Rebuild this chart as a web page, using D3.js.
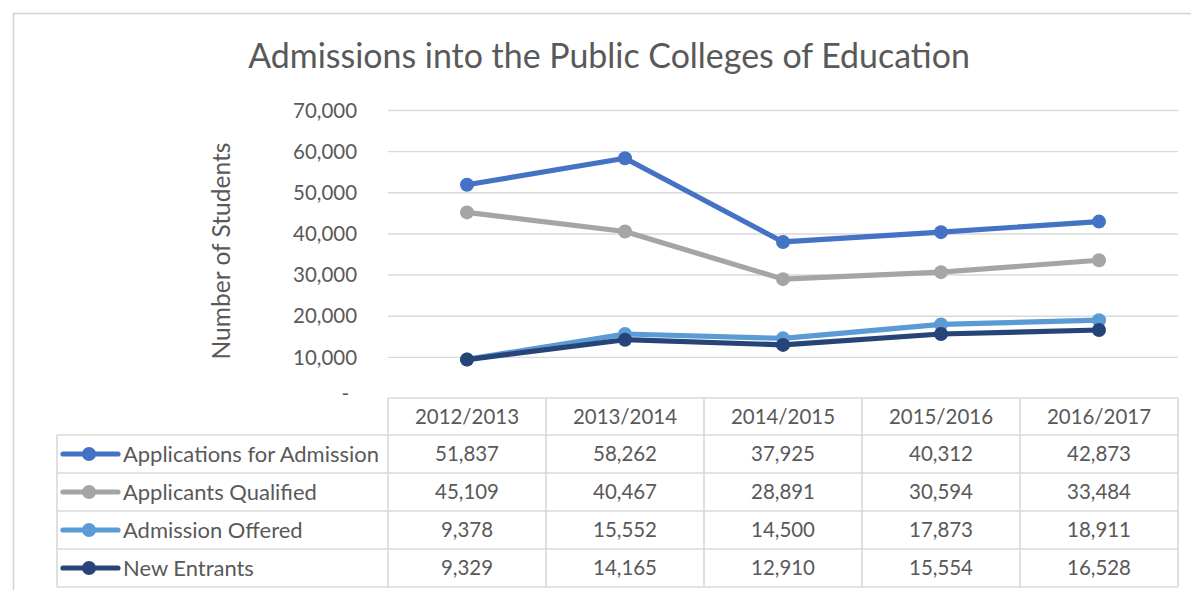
<!DOCTYPE html>
<html>
<head>
<meta charset="utf-8">
<script src="https://cdn.jsdelivr.net/npm/d3@7"></script>
<style>
  html, body { margin: 0; padding: 0; background: #fff; }
  svg { display: block; }
  text { font-family: Lato, "Open Sans", sans-serif; fill: #595959; }
</style>
</head>
<body>
<svg id="chart" width="1191" height="590"></svg>
<script>
// Academic years on the category axis
const years = ["2012/2013", "2013/2014", "2014/2015", "2015/2016", "2016/2017"];

// Series names and values (number of students)
const seriesNames = ["Applications for Admission", "Applicants Qualified", "Admission Offered", "New Entrants"];
const applications = [51837, 58262, 37925, 40312, 42873];
const qualified    = [45109, 40467, 28891, 30594, 33484];
const offered      = [9378, 15552, 14500, 17873, 18911];
const entrants     = [9329, 14165, 12910, 15554, 16528];

// Value axis ticks
const yTicks = [0, 10000, 20000, 30000, 40000, 50000, 60000, 70000];

const chartTitle = "Admissions into the Public Colleges of Education";
const yTitle = "Number of Students";

const seriesValues = [applications, qualified, offered, entrants];
const colors = ["#4472C4", "#A5A5A5", "#5B9BD5", "#264478"];

const svg = d3.select("#chart");
const W = 1191, H = 590;

// layout
const plotLeft = 388, plotRight = 1178, plotTop = 110, plotBottom = 398;
const tableLeft = 57, rowTop = 435, rowH = 38;
const grid = "#D9D9D9";
const lineW = 5.2, markR = 7;

// pick a font size so that a sample string measures a given width
function fitSize(sample, target, weight) {
  const t = svg.append("text").attr("font-size", 100).attr("font-weight", weight || 400).text(sample);
  const w = t.node().getComputedTextLength();
  t.remove();
  return 100 * target / w;
}
const numSize = fitSize("51,837", 64);
const legendSize = fitSize("Applications for Admission", 256);
const titleSize = fitSize(chartTitle, 722);
const yTitleSize = fitSize(yTitle, 217);

// outer chart border
svg.append("rect")
  .attr("x", 13.5).attr("y", 13.5)
  .attr("width", W + 20).attr("height", H + 20)
  .attr("fill", "#fff").attr("stroke", "#D4D4D4").attr("stroke-width", 1.6);

const x = d3.scaleBand().domain(years).range([plotLeft, plotRight]).padding(0);
const y = d3.scaleLinear().domain([0, 70000]).range([plotBottom, plotTop]);
const cx = d => x(d) + x.bandwidth() / 2;

// title
svg.append("text")
  .attr("x", 609).attr("y", 68)
  .attr("text-anchor", "middle")
  .attr("font-size", titleSize)
  .text(chartTitle);

// y-axis title
svg.append("text")
  .attr("transform", `translate(230,251) rotate(-90)`)
  .attr("text-anchor", "middle")
  .attr("font-size", yTitleSize)
  .text(yTitle);

// gridlines and tick labels via d3 axis
const yAxis = d3.axisLeft(y)
  .tickValues(yTicks)
  .tickSize(-(plotRight - plotLeft))
  .tickPadding(31)
  .tickFormat(v => v === 0 ? "-" : d3.format(",")(v));

const gAxis = svg.append("g")
  .attr("transform", `translate(${plotLeft},0)`)
  .call(yAxis);
gAxis.select(".domain").remove();
gAxis.selectAll(".tick line")
  .attr("stroke", grid).attr("stroke-width", 1.4)
  .filter(d => d === 0).remove();
gAxis.selectAll(".tick text")
  .attr("font-size", numSize)
  .attr("fill", "#595959")
  .style("font-family", "Lato, 'Open Sans', sans-serif")
  .attr("dy", "0.35em")
  .filter(d => d === 0).attr("x", -39).attr("dy", "0.1em");

// series lines and markers
const line = d3.line().x((d, i) => cx(years[i])).y(d => y(d));
seriesValues.forEach((vals, s) => {
  const g = svg.append("g");
  g.append("path")
    .attr("d", line(vals))
    .attr("fill", "none")
    .attr("stroke", colors[s])
    .attr("stroke-width", lineW)
    .attr("stroke-linejoin", "round")
    .attr("stroke-linecap", "round");
  g.selectAll("circle").data(vals).join("circle")
    .attr("cx", (d, i) => cx(years[i]))
    .attr("cy", d => y(d))
    .attr("r", markR)
    .attr("fill", colors[s]);
});

// data table
const tbl = svg.append("g");
const tableBottom = rowTop + rowH * seriesNames.length;

// header row
years.forEach(yr => {
  tbl.append("text")
    .attr("x", cx(yr)).attr("y", (plotBottom + rowTop) / 2)
    .attr("dy", "0.36em")
    .attr("text-anchor", "middle")
    .attr("font-size", numSize)
    .text(yr);
});

// horizontal borders
tbl.append("line")
  .attr("x1", plotLeft).attr("x2", plotRight)
  .attr("y1", plotBottom).attr("y2", plotBottom);
d3.range(seriesNames.length + 1).forEach(r => {
  tbl.append("line")
    .attr("x1", tableLeft).attr("x2", plotRight)
    .attr("y1", rowTop + r * rowH).attr("y2", rowTop + r * rowH);
});
// vertical borders
tbl.append("line")
  .attr("x1", tableLeft).attr("x2", tableLeft)
  .attr("y1", rowTop).attr("y2", tableBottom);
years.forEach(yr => {
  tbl.append("line")
    .attr("x1", x(yr)).attr("x2", x(yr))
    .attr("y1", plotBottom).attr("y2", tableBottom);
});
tbl.append("line")
  .attr("x1", plotRight).attr("x2", plotRight)
  .attr("y1", plotBottom).attr("y2", tableBottom);
tbl.selectAll("line").attr("stroke", grid).attr("stroke-width", 1.6);

// rows: legend key, series name, values
seriesNames.forEach((name, s) => {
  const cy = rowTop + s * rowH + rowH / 2;
  tbl.append("line")
    .attr("x1", 63).attr("x2", 118)
    .attr("y1", cy).attr("y2", cy)
    .attr("stroke", colors[s]).attr("stroke-width", lineW)
    .attr("stroke-linecap", "round");
  tbl.append("circle")
    .attr("cx", 89).attr("cy", cy).attr("r", markR)
    .attr("fill", colors[s]);
  tbl.append("text")
    .attr("x", 123).attr("y", cy)
    .attr("dy", "0.36em")
    .attr("font-size", legendSize)
    .text(name);
  seriesValues[s].forEach((v, i) => {
    tbl.append("text")
      .attr("x", cx(years[i])).attr("y", cy)
      .attr("dy", "0.36em")
      .attr("text-anchor", "middle")
      .attr("font-size", numSize)
      .text(d3.format(",")(v));
  });
});
</script>
</body>
</html>
